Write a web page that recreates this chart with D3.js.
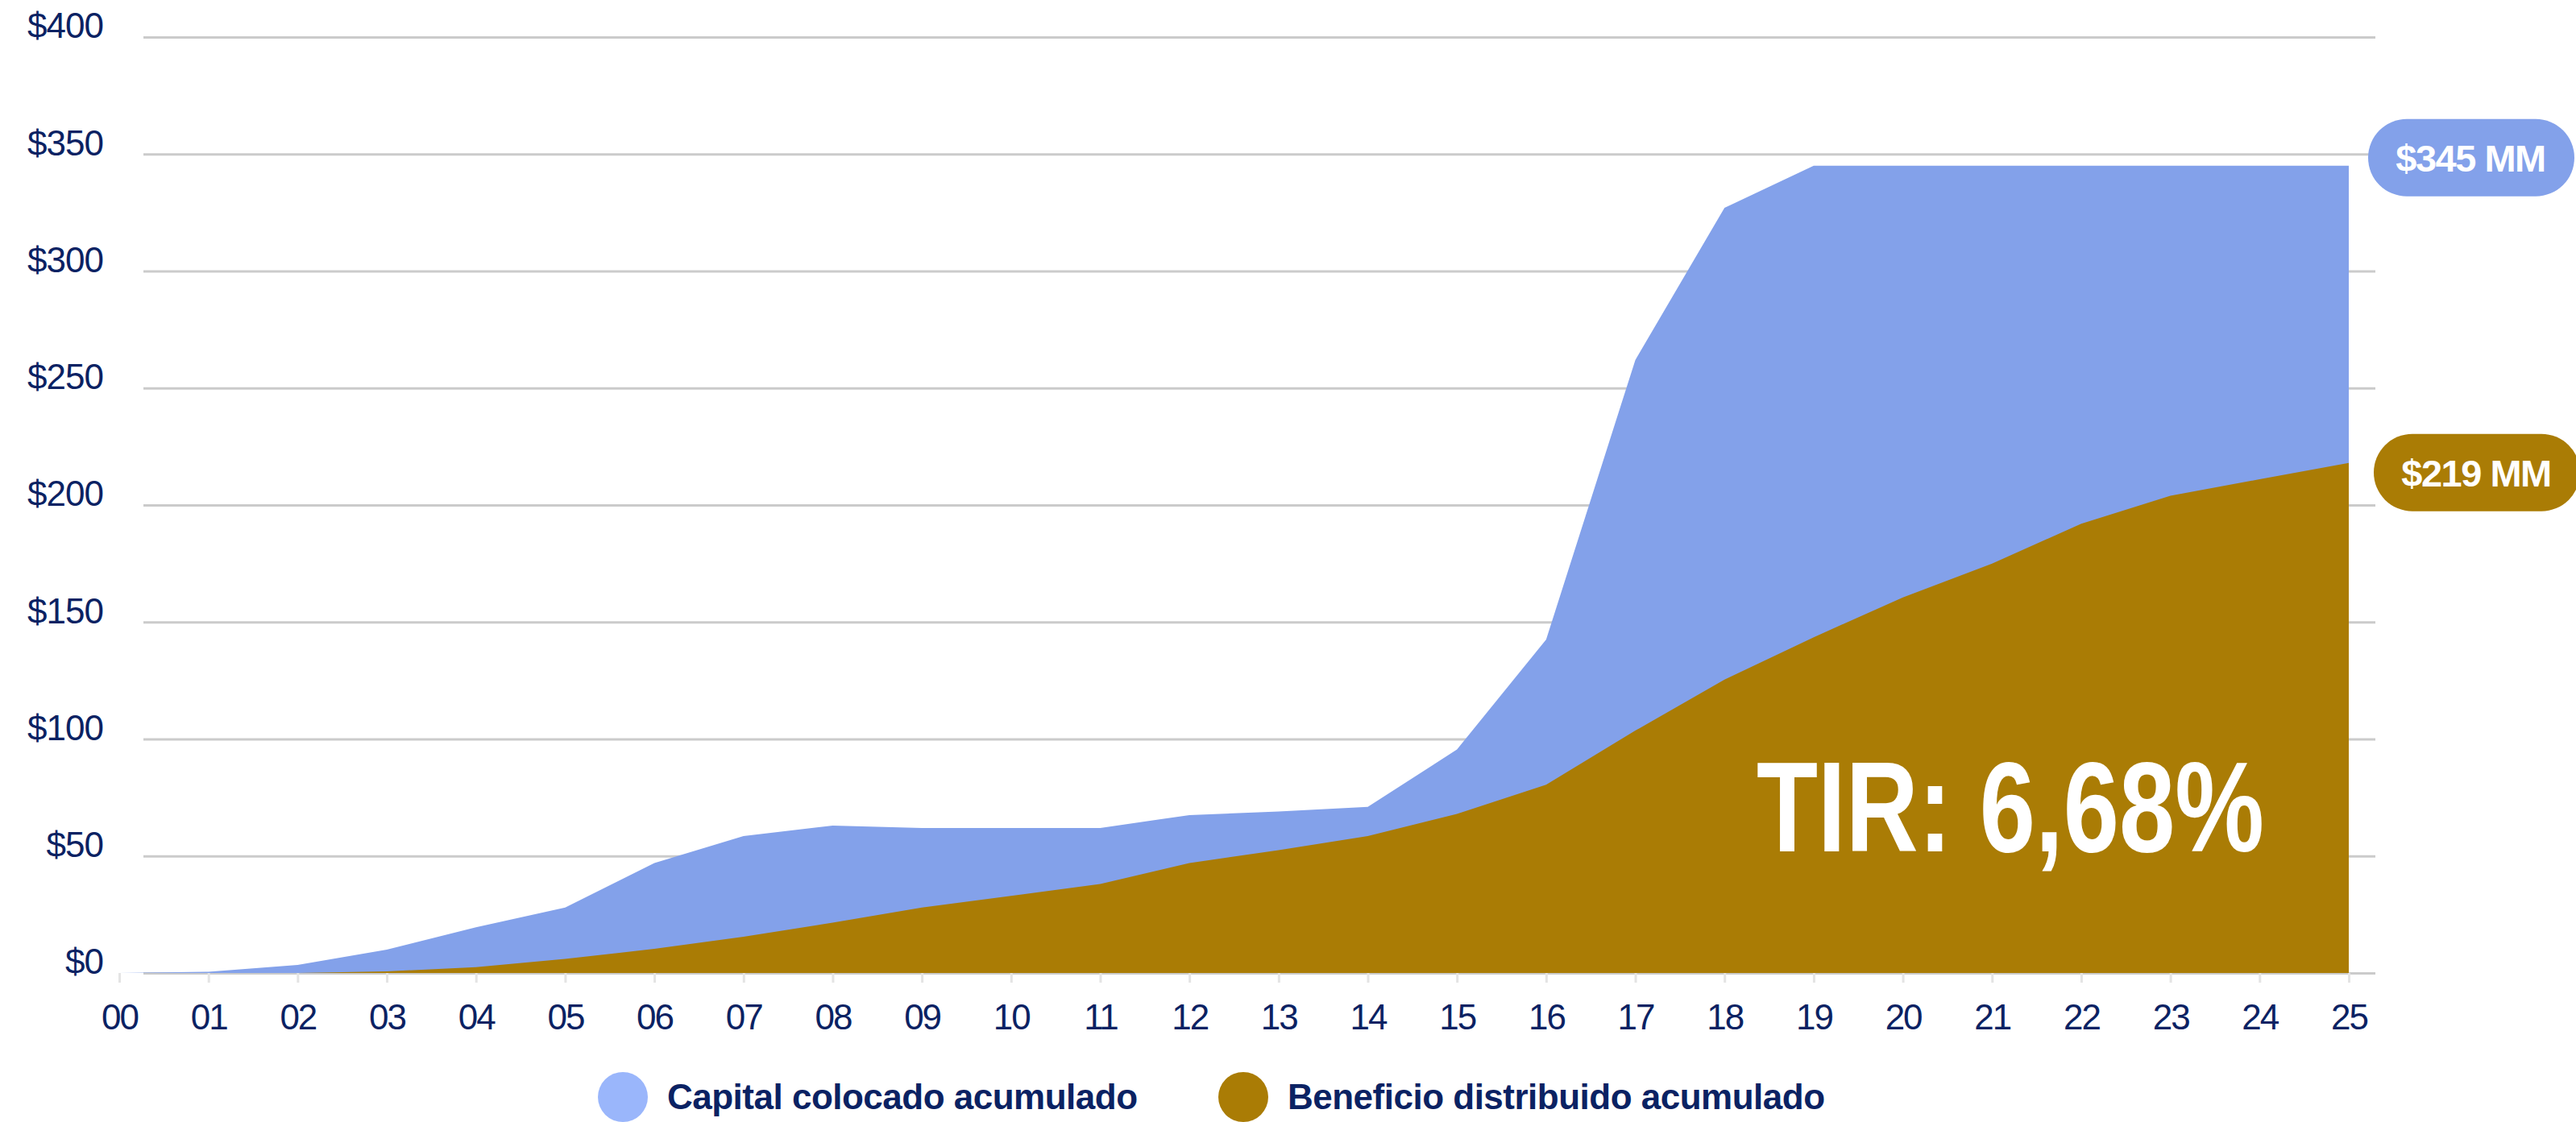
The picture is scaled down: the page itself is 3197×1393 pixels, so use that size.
<!DOCTYPE html>
<html>
<head>
<meta charset="utf-8">
<script src="https://cdn.jsdelivr.net/npm/d3@7"></script>
<style>
  body { margin: 0; background: #fff; overflow: hidden; }
  text { font-family: "Liberation Sans", Arial, Helvetica, sans-serif; }
</style>
</head>
<body>
<svg id="chart" width="3197" height="1393"></svg>
<script>
// years on the x axis
const years = ["00","01","02","03","04","05","06","07","08","09","10","11","12",
  "13","14","15","16","17","18","19","20","21","22","23","24","25"];

// cumulative placed capital (MM USD)
const capital = [0, 0.5, 3.4, 10, 19.5, 28, 47, 58.5, 63, 62, 62, 62, 67.5,
  69, 71, 95.5, 142.5, 262, 327, 345, 345, 345, 345, 345, 345, 345];

// cumulative distributed profit (MM USD)
const beneficio = [0, 0, 0, 0.7, 2.5, 6, 10.3, 15.5, 21.5, 28, 33, 38, 47,
  52.5, 58.5, 68, 80.5, 103.6, 125.4, 143.5, 160.5, 175, 192, 204, 211, 218];

const yTicks = [0, 50, 100, 150, 200, 250, 300, 350, 400];
const legendLabels = ["Capital colocado acumulado", "Beneficio distribuido acumulado"];
const callouts = ["$345 MM", "$219 MM"];
const tirLabel = "TIR: 6,68%";

const navy = "#0b2263";
const blue = "#83a1ea";
const blueLegend = "#9ab6fb";
const brown = "#aa7c05";

const svg = d3.select("#chart");

const x = d3.scalePoint().domain(years).range([148, 2915]);
const y = d3.scaleLinear().domain([0, 400]).range([1208, 46]);

const gridLeft = 178, gridRight = 2948;

// y axis + gridlines
const yAxis = svg.append("g")
  .attr("transform", `translate(${gridLeft},0)`)
  .call(d3.axisLeft(y).tickValues(yTicks)
    .tickSizeInner(-(gridRight - gridLeft)).tickSizeOuter(0)
    .tickPadding(50).tickFormat(d => "$" + d));
yAxis.select(".domain").remove();
yAxis.selectAll(".tick line").attr("stroke", "#cbcbcb").attr("stroke-width", 3);
yAxis.selectAll(".tick text")
  .attr("fill", navy).attr("font-size", 44).attr("dy", "0.02em")
  .style("letter-spacing", "-1px");

// areas, drawn one over the other (not stacked)
const area = vals => d3.area()
  .x((d, i) => x(years[i]))
  .y0(y(0))
  .y1(d => y(d))(vals);

svg.append("path").attr("d", area(capital)).attr("fill", blue);
svg.append("path").attr("d", area(beneficio)).attr("fill", brown);

// x axis
const xAxis = svg.append("g")
  .attr("transform", `translate(0,${y(0)})`)
  .call(d3.axisBottom(x).tickSize(12).tickPadding(27));
xAxis.select(".domain").remove();
xAxis.selectAll(".tick line").attr("stroke", "#e4e4e4").attr("stroke-width", 3);
xAxis.selectAll(".tick text")
  .attr("fill", navy).attr("font-size", 44)
  .style("letter-spacing", "-2px");

// TIR annotation
svg.append("text")
  .attr("x", 2180).attr("y", 1057)
  .attr("fill", "#fff").attr("font-size", 160).attr("font-weight", "bold")
  .attr("textLength", 630).attr("lengthAdjust", "spacingAndGlyphs")
  .text(tirLabel);

// end-value callouts
const pills = [
  { label: callouts[0], color: blue, x: 2939, cy: y(capital[capital.length - 1]) - 10 },
  { label: callouts[1], color: brown, x: 2946, cy: y(beneficio[beneficio.length - 1]) + 12 }
];
const pill = svg.selectAll(".pill").data(pills).enter().append("g").attr("class", "pill");
pill.append("rect")
  .attr("x", d => d.x).attr("y", d => d.cy - 48)
  .attr("width", 256).attr("height", 96).attr("rx", 48)
  .attr("fill", d => d.color);
pill.append("text")
  .attr("x", d => d.x + 127).attr("y", d => d.cy + 17)
  .attr("text-anchor", "middle")
  .attr("fill", "#fff").attr("font-size", 47).attr("font-weight", "bold")
  .style("letter-spacing", "-1.5px")
  .text(d => d.label);

// legend
const legend = svg.selectAll(".legend")
  .data([{ label: legendLabels[0], color: blueLegend, cx: 773 },
         { label: legendLabels[1], color: brown, cx: 1543 }])
  .enter().append("g").attr("class", "legend");
legend.append("circle")
  .attr("cx", d => d.cx).attr("cy", 1362).attr("r", 31)
  .attr("fill", d => d.color);
legend.append("text")
  .attr("x", d => d.cx + 55).attr("y", 1377)
  .attr("fill", navy).attr("font-size", 44).attr("font-weight", "bold")
  .style("letter-spacing", "-0.5px")
  .text(d => d.label);
</script>
</body>
</html>
